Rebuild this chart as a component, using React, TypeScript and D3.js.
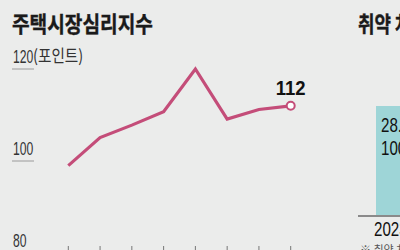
import React from "react";
import * as d3 from "d3";

const months = ["1월", "2월", "3월", "4월", "5월", "6월", "7월", "8월"];
const sentiment = [99, 105.1, 107.8, 110.7, 120, 109.1, 111.2, 112];
const yTicks = [120, 100, 80];
const barCategories = ["2023"];
const barValues = [100];
const barLabels = ["28.4", "100.0"];

const W = 400;
const H = 250;
const SANS = "'Liberation Sans', Arial, sans-serif";
const KR = "'Noto Sans CJK KR', 'Noto Sans', sans-serif";

type CTProps = {
  x: number;
  y: number;
  sx: number;
  size: number;
  weight?: number;
  anchor?: "start" | "middle" | "end";
  fill?: string;
  family?: string;
  children: React.ReactNode;
};

function CText({ x, y, sx, size, weight = 400, anchor = "start", fill = "#222", family = SANS, children }: CTProps) {
  return (
    <text
      transform={`translate(${x},${y}) scale(${sx},1)`}
      fontFamily={family}
      fontSize={size}
      fontWeight={weight}
      textAnchor={anchor}
      fill={fill}
    >
      {children}
    </text>
  );
}

export default function App() {
  const x = d3.scalePoint<string>().domain(months).range([68.3, 290.7]);
  const y = d3.scaleLinear().domain([80, 120]).range([253, 69]);
  const line = d3
    .line<number>()
    .x((_, i) => x(months[i]) as number)
    .y((d) => y(d));

  const bx = d3.scaleBand<string>().domain(barCategories).range([376, 436]).padding(0);
  const by = d3.scaleLinear().domain([0, 100]).range([215, 106]);

  const last = sentiment.length - 1;
  const pink = "#c44d79";

  return (
    <svg
      width={W}
      height={H}
      style={{ position: "fixed", left: 0, top: 0, display: "block" }}
    >
      <rect width={W} height={H} fill="#ebeceb" />

      {/* Left chart */}
      <text
        x={12}
        y={32}
        fontFamily={KR}
        fontWeight={700}
        fontSize={22}
        textLength={141}
        lengthAdjust="spacingAndGlyphs"
        fill="#1a1a1a"
        stroke="#1a1a1a"
        strokeWidth={0.4}
      >
        주택시장심리지수
      </text>

      {yTicks.map((t) => (
        <g key={t}>
          <CText x={13} y={y(t) - 6} sx={0.64} size={19} fill="#333">
            {t}
          </CText>
          <line x1={12} x2={34} y1={y(t)} y2={y(t)} stroke="#9a9a9a" strokeWidth={1} />
        </g>
      ))}
      <CText x={33} y={y(120) - 7} sx={0.86} size={17} family={KR} fill="#333">
        (포인트)
      </CText>

      {months.map((m) => (
        <line
          key={m}
          x1={x(m)}
          x2={x(m)}
          y1={246}
          y2={251}
          stroke="#777"
          strokeWidth={1}
        />
      ))}

      <path
        d={line(sentiment) || ""}
        fill="none"
        stroke={pink}
        strokeWidth={3.2}
        strokeLinejoin="miter"
      />
      <circle
        cx={x(months[last])}
        cy={y(sentiment[last])}
        r={4}
        fill="#fff"
        stroke={pink}
        strokeWidth={2}
      />
      <CText
        x={x(months[last]) as number}
        y={95}
        sx={0.88}
        size={21}
        weight={700}
        anchor="middle"
        fill="#111"
      >
        {Math.round(sentiment[last])}
      </CText>

      {/* Right chart (cropped) */}
      <text
        x={358}
        y={32}
        fontFamily={KR}
        fontWeight={700}
        fontSize={22}
        textLength={70}
        lengthAdjust="spacingAndGlyphs"
        fill="#1a1a1a"
        stroke="#1a1a1a"
        strokeWidth={0.4}
      >
        취약 차주
      </text>
      {barCategories.map((c, i) => (
        <g key={c}>
          <rect
            x={bx(c)}
            y={by(barValues[i])}
            width={bx.bandwidth()}
            height={by(0) - by(barValues[i])}
            fill="#9ed5d7"
          />
          <CText x={(bx(c) as number) + 5} y={132} sx={0.72} size={21} fill="#111">
            {barLabels[0]}
          </CText>
          <CText x={(bx(c) as number) + 5} y={155} sx={0.72} size={21} fill="#111">
            {barLabels[1]}
          </CText>
          <CText x={374} y={236} sx={0.72} size={21} fill="#111">
            {c}
          </CText>
        </g>
      ))}
      <line x1={358} x2={420} y1={216} y2={216} stroke="#8a8a8a" strokeWidth={2} />
      <text x={360} y={254} fontFamily={KR} fontSize={11} fill="#555">
        ※ 취약 차주
      </text>
    </svg>
  );
}
